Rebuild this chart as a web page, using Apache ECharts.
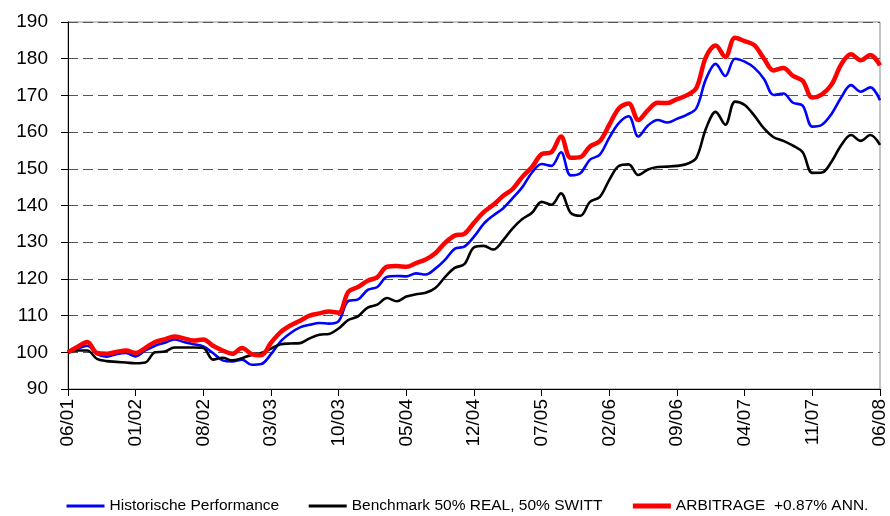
<!DOCTYPE html>
<html>
<head>
<meta charset="utf-8">
<script src="https://cdn.jsdelivr.net/npm/echarts@6/dist/echarts.min.js"></script>
<style>
html, body { margin: 0; padding: 0; background: #fff; }
#main { width: 890px; height: 516px; }
</style>
</head>
<body>
<div id="main"></div>
<script>
var chartDom = document.getElementById('main');
var myChart = echarts.init(chartDom);
var option;

// monthly points, 06/01 .. 06/08
var startYear = 2001, startMonth = 6, monthCount = 85;
var months = [];
for (var i = 0; i < monthCount; i++) {
    var m = (startMonth - 1 + i) % 12 + 1;
    var y = startYear + Math.floor((startMonth - 1 + i) / 12);
    months.push((m < 10 ? '0' : '') + m + '/' + String(y).slice(2));
}

var seriesNames = ['Historische Performance', 'Benchmark 50% REAL, 50% SWITT', 'ARBITRAGE  +0.87% ANN.'];
var legendWidths = [3, 3, 5];

var historisch = [
    100, 101, 101.8, 99.5, 98.8, 99.5, 99.8, 98.9, 100.5, 101.8,
    102.6, 103.5, 102.8, 102.2, 101.6, 99.8, 97.8, 97.5, 98.0, 96.6,
    96.8, 99.5, 103.0, 105.2, 106.8, 107.5, 108.0, 107.8, 108.5, 114.0,
    114.4, 117.0, 117.8, 120.6, 120.8, 120.7, 121.5, 121.2, 122.8, 125.2,
    128.2, 128.8, 131.5, 135.0, 137.3, 139.2, 142.0, 145.0, 149.0, 151.3,
    150.8, 154.5, 148.2, 148.8, 152.5, 153.8, 158.5, 162.5, 164.3, 158.8,
    161.8, 163.3, 162.6, 163.6, 164.7, 166.5, 174.5, 178.6, 175.3, 180.0,
    179.2, 177.5, 174.5, 170.1, 170.5, 168.0, 167.2, 161.5, 162.0, 165.0,
    169.5, 172.8, 171.0, 172.2, 168.7
];

var benchmark = [
    100, 100.5, 100.5, 98.2, 97.6, 97.4, 97.2, 97.0, 97.2, 100.0,
    100.2, 101.3, 101.3, 101.3, 101.2, 98.0, 98.5, 97.8, 98.4, 99.3,
    99.8, 101.0, 102.2, 102.4, 102.5, 103.8, 104.8, 105.0, 106.5, 108.8,
    109.8, 112.2, 113.0, 114.8, 113.9, 115.2, 115.8, 116.2, 117.5, 120.5,
    123.0, 124.0, 128.6, 129.0, 128.0, 130.5, 133.8, 136.3, 138.0, 141.0,
    140.2, 143.3, 138.0, 137.2, 141.0, 142.3, 147.0, 150.8, 151.2, 148.3,
    149.8, 150.5, 150.6, 150.8, 151.3, 153.0, 161.0, 165.5, 162.0, 168.3,
    167.4, 164.5, 161.0, 158.6, 157.6, 156.3, 154.5, 148.9, 149.0, 152.0,
    156.5, 159.2, 157.6, 159.2, 156.5
];

var arbitrage = [
    100, 101.5, 102.8, 99.8, 99.6, 100.1, 100.5, 99.8, 101.2, 102.8,
    103.5, 104.3, 103.8, 103.2, 103.5, 101.8, 100.5, 99.6, 101.2, 99.5,
    99.2, 102.6, 105.5, 107.3, 108.6, 110.0, 110.6, 111.1, 110.8, 116.5,
    117.8, 119.5, 120.5, 123.3, 123.5, 123.3, 124.3, 125.3, 127.0, 129.8,
    131.8, 132.3, 135.3, 138.2, 140.2, 142.6, 144.5, 147.8, 150.5, 154.0,
    154.5, 158.8, 153.0, 153.2, 156.1, 157.5, 162.0, 166.5, 167.8, 163.3,
    166.0, 168.0, 167.9, 169.0, 170.0, 172.0, 180.5, 183.6, 180.5, 185.7,
    184.8, 183.7, 180.0, 176.8, 177.5, 175.3, 174.0, 169.4, 170.3, 173.0,
    178.5, 181.2, 179.6, 181.0, 178.2
];

var font = 'Liberation Sans, Arial, sans-serif';

option = {
    backgroundColor: '#fff',
    animation: false,
    grid: {
        left: 68,
        right: 10,
        top: 22,
        bottom: 127,
        show: true,
        borderColor: '#888',
        borderWidth: 1
    },
    legend: {
        left: 65,
        top: 498,
        width: 825,
        padding: 0,
        itemWidth: 38,
        itemHeight: 14,
        itemGap: 28,
        textStyle: { fontFamily: font, fontSize: 15.5, color: '#000' },
        data: seriesNames.map(function (n, k) {
            return { name: n, itemStyle: { opacity: 0 }, lineStyle: { width: legendWidths[k] } };
        })
    },
    xAxis: {
        type: 'category',
        data: months,
        boundaryGap: false,
        axisLine: { lineStyle: { color: '#000', width: 1 } },
        axisTick: { interval: 6, length: 7, lineStyle: { color: '#000' } },
        axisLabel: {
            interval: 6,
            rotate: 90,
            margin: 10,
            fontFamily: font,
            fontSize: 19,
            color: '#000'
        },
        splitLine: { show: false }
    },
    yAxis: {
        type: 'value',
        min: 90,
        max: 190,
        interval: 10,
        axisLine: { show: true, lineStyle: { color: '#000', width: 1 } },
        axisTick: { show: true, length: 7, lineStyle: { color: '#000' } },
        axisLabel: { margin: 20, fontFamily: font, fontSize: 19, color: '#000' },
        splitLine: { lineStyle: { color: '#555', type: [10, 5], width: 1 } }
    },
    series: [{
        name: seriesNames[0],
        type: 'line',
        data: historisch,
        symbol: 'none',
        smooth: 0.35,
        lineStyle: { color: '#0000ff', width: 2.6 },
        itemStyle: { color: '#0000ff' }
    }, {
        name: seriesNames[1],
        type: 'line',
        data: benchmark,
        symbol: 'none',
        smooth: 0.35,
        lineStyle: { color: '#000000', width: 2.6 },
        itemStyle: { color: '#000000' }
    }, {
        name: seriesNames[2],
        type: 'line',
        data: arbitrage,
        symbol: 'none',
        smooth: 0.35,
        lineStyle: { color: '#ff0000', width: 4.5 },
        itemStyle: { color: '#ff0000' }
    }]
};

option && myChart.setOption(option);
</script>
</body>
</html>
